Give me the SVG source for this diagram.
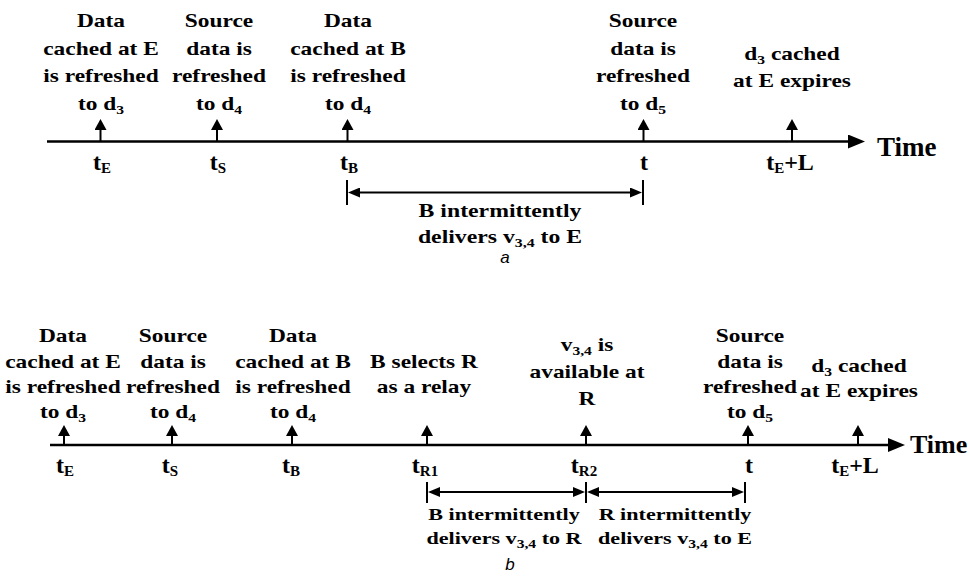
<svg xmlns="http://www.w3.org/2000/svg" width="970" height="580" viewBox="0 0 970 580">
<defs>
<style>
.lbl{font-family:"Liberation Serif","Times New Roman",serif;font-weight:bold;font-size:18px;text-anchor:middle;fill:#000}
.lbs{font-family:"Liberation Serif","Times New Roman",serif;font-weight:bold;font-size:17px;text-anchor:middle;fill:#000}
.sub{font-size:12px}
.tl{font-family:"Liberation Serif","Times New Roman",serif;font-weight:bold;font-size:24px;text-anchor:middle;fill:#000}
.tsub{font-size:15px}
.time{font-family:"Liberation Serif","Times New Roman",serif;font-weight:bold;fill:#000}
.cap{font-family:"Liberation Sans",Arial,sans-serif;font-style:italic;font-size:17px;text-anchor:middle;fill:#000}
.axis{stroke:#000;stroke-width:2.5;fill:none}
.ev{stroke:#000;stroke-width:2;fill:none}
.br{stroke:#000;stroke-width:2;fill:none}
</style>
<marker id="ah" markerUnits="userSpaceOnUse" markerWidth="12" markerHeight="12" refX="0" refY="6" orient="auto"><path d="M0,0 L11,6 L0,12 Z" fill="#000"/></marker>
<marker id="axh" markerUnits="userSpaceOnUse" markerWidth="18" markerHeight="14" refX="0" refY="7" orient="auto"><path d="M0,0 L17,7 L0,14 Z" fill="#000"/></marker>
<marker id="bh" markerUnits="userSpaceOnUse" markerWidth="13" markerHeight="10" refX="0" refY="5" orient="auto-start-reverse"><path d="M0,0 L12,5 L0,10 Z" fill="#000"/></marker>
</defs>
<rect width="970" height="580" fill="#fff"/>

<g id="connectors">
<!-- panel a -->
<line class="axis" x1="47" y1="141.5" x2="848" y2="141.5" marker-end="url(#axh)"/>
<line class="ev" x1="100.5" y1="141.5" x2="100.5" y2="130" marker-end="url(#ah)"/>
<line class="ev" x1="217" y1="141.5" x2="217" y2="130" marker-end="url(#ah)"/>
<line class="ev" x1="347.5" y1="141.5" x2="347.5" y2="130" marker-end="url(#ah)"/>
<line class="ev" x1="643.5" y1="141.5" x2="643.5" y2="130" marker-end="url(#ah)"/>
<line class="ev" x1="792" y1="141.5" x2="792" y2="130" marker-end="url(#ah)"/>
<line class="br" x1="347" y1="180" x2="347" y2="205"/>
<line class="br" x1="643" y1="180" x2="643" y2="205"/>
<line class="br" x1="360" y1="192.5" x2="630" y2="192.5" marker-start="url(#bh)" marker-end="url(#bh)"/>
<!-- panel b -->
<line class="axis" x1="50" y1="445" x2="888" y2="445" marker-end="url(#axh)"/>
<line class="ev" x1="64" y1="445" x2="64" y2="436" marker-end="url(#ah)"/>
<line class="ev" x1="172" y1="445" x2="172" y2="436" marker-end="url(#ah)"/>
<line class="ev" x1="292" y1="445" x2="292" y2="436" marker-end="url(#ah)"/>
<line class="ev" x1="427" y1="445" x2="427" y2="436" marker-end="url(#ah)"/>
<line class="ev" x1="586" y1="445" x2="586" y2="436" marker-end="url(#ah)"/>
<line class="ev" x1="748" y1="445" x2="748" y2="436" marker-end="url(#ah)"/>
<line class="ev" x1="858" y1="445" x2="858" y2="436" marker-end="url(#ah)"/>
<line class="br" x1="427" y1="482" x2="427" y2="503"/>
<line class="br" x1="586" y1="482" x2="586" y2="503"/>
<line class="br" x1="745" y1="482" x2="745" y2="503"/>
<line class="br" x1="440" y1="492" x2="573" y2="492" marker-start="url(#bh)" marker-end="url(#bh)"/>
<line class="br" x1="599" y1="492" x2="732" y2="492" marker-start="url(#bh)" marker-end="url(#bh)"/>
</g>

<!-- Panel a nodes -->
<g id="a-evt-E">
<g transform="translate(101,0) scale(1.3,1)">
<text class="lbl" x="0" y="27">Data</text>
<text class="lbl" x="0" y="55">cached at E</text>
<text class="lbl" x="0" y="82">is refreshed</text>
<text class="lbl" x="0" y="110">to d<tspan class="sub" dy="4">3</tspan></text>
</g>
<text class="tl" x="102" y="170">t<tspan class="tsub" dy="3">E</tspan></text>
</g>
<g id="a-evt-S">
<g transform="translate(219,0) scale(1.3,1)">
<text class="lbl" x="0" y="27">Source</text>
<text class="lbl" x="0" y="55">data is</text>
<text class="lbl" x="0" y="82">refreshed</text>
<text class="lbl" x="0" y="110">to d<tspan class="sub" dy="4">4</tspan></text>
</g>
<text class="tl" x="218" y="170">t<tspan class="tsub" dy="3">S</tspan></text>
</g>
<g id="a-evt-B">
<g transform="translate(348,0) scale(1.3,1)">
<text class="lbl" x="0" y="27">Data</text>
<text class="lbl" x="0" y="55">cached at B</text>
<text class="lbl" x="0" y="82">is refreshed</text>
<text class="lbl" x="0" y="110">to d<tspan class="sub" dy="4">4</tspan></text>
</g>
<text class="tl" x="349" y="170">t<tspan class="tsub" dy="3">B</tspan></text>
</g>
<g id="a-evt-t">
<g transform="translate(643,0) scale(1.3,1)">
<text class="lbl" x="0" y="27">Source</text>
<text class="lbl" x="0" y="55">data is</text>
<text class="lbl" x="0" y="82">refreshed</text>
<text class="lbl" x="0" y="110">to d<tspan class="sub" dy="4">5</tspan></text>
</g>
<text class="tl" x="644" y="170">t</text>
</g>
<g id="a-evt-EL">
<g transform="translate(792,0) scale(1.3,1)">
<text class="lbl" x="0" y="60">d<tspan class="sub" dy="4">3</tspan><tspan dy="-4"> cached</tspan></text>
<text class="lbl" x="0" y="87">at E expires</text>
</g>
<text class="tl" x="790" y="170">t<tspan class="tsub" dy="3">E</tspan><tspan dy="-3">+L</tspan></text>
</g>
<g id="a-time"><text class="time" x="877" y="156" font-size="27">Time</text></g>
<g id="a-interval">
<g transform="translate(500,0) scale(1.32,1)">
<text class="lbl" x="0" y="217">B intermittently</text>
<text class="lbl" x="0" y="243">delivers v<tspan class="sub" dy="4">3,4</tspan><tspan dy="-4"> to E</tspan></text>
</g>
</g>
<g id="a-caption"><text class="cap" x="505" y="263">a</text></g>

<!-- Panel b nodes -->
<g id="b-evt-E">
<g transform="translate(63,0) scale(1.3,1)">
<text class="lbl" x="0" y="342">Data</text>
<text class="lbl" x="0" y="368">cached at E</text>
<text class="lbl" x="0" y="393">is refreshed</text>
<text class="lbl" x="0" y="418">to d<tspan class="sub" dy="4">3</tspan></text>
</g>
<text class="tl" x="65" y="473">t<tspan class="tsub" dy="3">E</tspan></text>
</g>
<g id="b-evt-S">
<g transform="translate(173,0) scale(1.3,1)">
<text class="lbl" x="0" y="342">Source</text>
<text class="lbl" x="0" y="368">data is</text>
<text class="lbl" x="0" y="393">refreshed</text>
<text class="lbl" x="0" y="418">to d<tspan class="sub" dy="4">4</tspan></text>
</g>
<text class="tl" x="170" y="473">t<tspan class="tsub" dy="3">S</tspan></text>
</g>
<g id="b-evt-B">
<g transform="translate(293,0) scale(1.3,1)">
<text class="lbl" x="0" y="342">Data</text>
<text class="lbl" x="0" y="368">cached at B</text>
<text class="lbl" x="0" y="393">is refreshed</text>
<text class="lbl" x="0" y="418">to d<tspan class="sub" dy="4">4</tspan></text>
</g>
<text class="tl" x="291" y="473">t<tspan class="tsub" dy="3">B</tspan></text>
</g>
<g id="b-evt-R1">
<g transform="translate(424,0) scale(1.3,1)">
<text class="lbl" x="0" y="368">B selects R</text>
<text class="lbl" x="0" y="393">as a relay</text>
</g>
<text class="tl" x="425" y="473">t<tspan class="tsub" dy="3">R1</tspan></text>
</g>
<g id="b-evt-R2">
<g transform="translate(587,0) scale(1.3,1)">
<text class="lbl" x="0" y="351">v<tspan class="sub" dy="4">3,4</tspan><tspan dy="-4"> is</tspan></text>
<text class="lbl" x="0" y="378">available at</text>
<text class="lbl" x="0" y="405">R</text>
</g>
<text class="tl" x="584" y="473">t<tspan class="tsub" dy="3">R2</tspan></text>
</g>
<g id="b-evt-t">
<g transform="translate(750,0) scale(1.3,1)">
<text class="lbl" x="0" y="342">Source</text>
<text class="lbl" x="0" y="368">data is</text>
<text class="lbl" x="0" y="393">refreshed</text>
<text class="lbl" x="0" y="418">to d<tspan class="sub" dy="4">5</tspan></text>
</g>
<text class="tl" x="749" y="473">t</text>
</g>
<g id="b-evt-EL">
<g transform="translate(859,0) scale(1.3,1)">
<text class="lbl" x="0" y="372">d<tspan class="sub" dy="4">3</tspan><tspan dy="-4"> cached</tspan></text>
<text class="lbl" x="0" y="397">at E expires</text>
</g>
<text class="tl" x="855" y="473">t<tspan class="tsub" dy="3">E</tspan><tspan dy="-3">+L</tspan></text>
</g>
<g id="b-time"><text class="time" x="910" y="453" font-size="26">Time</text></g>
<g id="b-interval-1">
<g transform="translate(504,0) scale(1.3,1)">
<text class="lbs" x="0" y="520">B intermittently</text>
<text class="lbs" x="0" y="544">delivers v<tspan class="sub" dy="4">3,4</tspan><tspan dy="-4"> to R</tspan></text>
</g>
</g>
<g id="b-interval-2">
<g transform="translate(675,0) scale(1.3,1)">
<text class="lbs" x="0" y="520">R intermittently</text>
<text class="lbs" x="0" y="544">delivers v<tspan class="sub" dy="4">3,4</tspan><tspan dy="-4"> to E</tspan></text>
</g>
</g>
<g id="b-caption"><text class="cap" x="510" y="570">b</text></g>
</svg>
